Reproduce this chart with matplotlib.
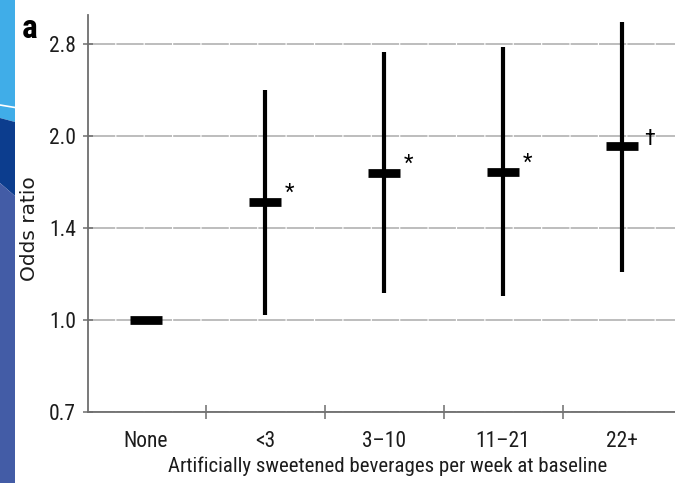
import matplotlib
matplotlib.use('Agg')
import matplotlib.pyplot as plt
from matplotlib import font_manager
from matplotlib.patches import Polygon
from matplotlib.lines import Line2D
from matplotlib.ticker import FixedLocator, NullLocator, FixedFormatter

# ---------------- data ----------------
categories = ['None', '<3', '3–10', '11–21', '22+']
odds_ratio = [1.00, 1.56, 1.74, 1.75, 1.93]
ci_low = [None, 1.02, 1.105, 1.095, 1.20]
ci_high = [None, 2.38, 2.75, 2.80, 3.08]
significance = ['', '*', '*', '*', '†']
y_ticks = [2 ** -0.5, 1.0, 2 ** 0.5, 2.0, 2 ** 1.5]
y_tick_labels = ['0.7', '1.0', '1.4', '2.0', '2.8']
x_label = 'Artificially sweetened beverages per week at baseline'
y_label = 'Odds ratio'
panel_label = 'a'

# ---------------- fonts ----------------
available = {f.name for f in font_manager.fontManager.ttflist}
narrow_candidates = ['Liberation Sans Narrow', 'Arial Narrow', 'DejaVu Sans Condensed',
                     'Roboto Condensed', 'Open Sans Condensed', 'Noto Sans Condensed']
narrow = next((n for n in narrow_candidates if n in available), None)
if narrow is not None:
    NARROW = [narrow, 'DejaVu Sans']
    FS = 15.0
else:
    NARROW = ['Liberation Sans', 'DejaVu Sans']
    FS = 13.4
TXT = '#1c1c1c'
AXC = '#6e6e6e'

W, H = 675, 483
fig = plt.figure(figsize=(W / 100, H / 100), dpi=100)
fig.patch.set_facecolor('white')

# decorative slide stripe on the left
def px(x, y):
    return (x / W, 1 - y / H)

stripe = [
    ([(0, 0), (15, 0), (15, 122), (0, 118)], '#40ade8'),
    ([(0, 118), (15, 122), (15, 196), (0, 183)], '#0c3d8e'),
    ([(0, 183), (15, 196), (15, 483), (0, 483)], '#435ca6'),
]
for pts, col in stripe:
    fig.patches.append(Polygon([px(*p) for p in pts], closed=True, facecolor=col,
                               edgecolor='none', transform=fig.transFigure, figure=fig))
fig.lines.append(Line2D([0, 15 / W], [1 - 105 / H, 1 - 107.5 / H], color='white', lw=1.2,
                        transform=fig.transFigure, figure=fig))

left_px, top_px, bottom_px = 87.7, 15.0, 411.7
ax = fig.add_axes([left_px / W, 1 - bottom_px / H, (W - left_px) / W, (bottom_px - top_px) / H])
ax.set_yscale('log', base=2)
ax.set_ylim(2 ** -0.5, 2 ** ((319.85 - top_px) / 183.7))
ax.set_xlim(-0.49, 4.445)

xs = list(range(len(categories)))
half_w = 0.134

# whiskers (CI)
for x, lo, hi in zip(xs, ci_low, ci_high):
    if lo is not None:
        ax.vlines(x, lo, hi, colors='black', lw=3.0, zorder=3)
# point estimates
ax.hlines(odds_ratio, [x - half_w for x in xs], [x + half_w for x in xs],
          colors='black', lw=6.3, zorder=4, capstyle='butt')

# significance marks
for x, orv, s in zip(xs, odds_ratio, significance):
    if not s:
        continue
    off = (4, 3) if s == '*' else (6, 1)
    ax.annotate(s, xy=(x + half_w, orv), xytext=off, textcoords='offset pixels',
                ha='left', va='baseline', fontsize=16, family=NARROW, color='black')

# grid
ax.set_axisbelow(True)
ax.yaxis.grid(True, color='#bdbdbd', lw=1.4, ls=(0, (14, 0.6)))
ax.xaxis.grid(False)

# y ticks
ax.yaxis.set_major_locator(FixedLocator(y_ticks))
ax.yaxis.set_major_formatter(FixedFormatter(y_tick_labels))
ax.yaxis.set_minor_locator(NullLocator())
ax.tick_params(axis='y', which='major', direction='inout', length=7, width=1.1,
               color=AXC, pad=5, labelsize=FS + 0.5, labelcolor=TXT)
for t in ax.get_yticklabels():
    t.set_family(NARROW)

# x ticks: labels at centers, tick marks between groups
ax.xaxis.set_major_locator(FixedLocator(xs))
ax.xaxis.set_major_formatter(FixedFormatter(categories))
ax.xaxis.set_minor_locator(FixedLocator([0.5, 1.5, 2.5, 3.5]))
ax.tick_params(axis='x', which='major', length=0, pad=14, labelsize=FS + 0.5, labelcolor=TXT)
ax.tick_params(axis='x', which='minor', direction='inout', length=10, width=1.1, color=AXC)
for t in ax.get_xticklabels():
    t.set_family(NARROW)

for side in ['top', 'right']:
    ax.spines[side].set_visible(False)
for side in ['left', 'bottom']:
    ax.spines[side].set_color(AXC)
    ax.spines[side].set_linewidth(1.3)

ax.set_xlabel(x_label, fontsize=FS, family=NARROW, color=TXT)
ax.xaxis.set_label_coords(0.51, -0.114)
ax.set_ylabel(y_label, fontsize=14.5, family='DejaVu Sans', color=TXT, va='center')
ax.yaxis.set_label_coords((29.5 - left_px) / (W - left_px), (bottom_px - 229) / (bottom_px - top_px))

fig.text(22 / W, 1 - 38.3 / H, panel_label, ha='left', va='baseline', fontsize=24,
         fontweight='bold', family=NARROW, color='black')

fig.savefig('out.png', dpi=100)
